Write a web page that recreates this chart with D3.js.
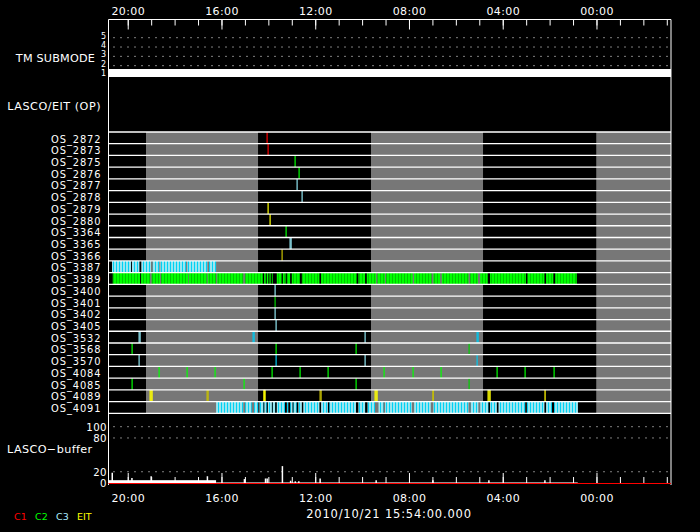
<!DOCTYPE html>
<html><head><meta charset="utf-8">
<script src="https://cdn.jsdelivr.net/npm/d3@7"></script>
<style>
body{margin:0;background:#000}
svg{display:block}
text{font-family:"DejaVu Sans",sans-serif}
</style></head>
<body><svg id="c" width="700" height="532"></svg>
<script>
// ---------- DATA (times are decimal hours on 2010/10/21, negative = previous day) ----------
const timeDomain = [20.82, -3.18];
const majorTicks = [20, 16, 12, 8, 4, 0];
const minorTicks = [20,19,18,17,16,15,14,13,12,11,10,9,8,7,6,5,4,3,2,1,0,-1,-2,-3];
const submodeLevels = [1, 2, 3, 4, 5];
const submodeSpans = [[20.82, -3.18, 1]];
const osRows = ["OS_2872","OS_2873","OS_2875","OS_2876","OS_2877","OS_2878","OS_2879","OS_2880",
  "OS_3364","OS_3365","OS_3366","OS_3387","OS_3389","OS_3400","OS_3401","OS_3402","OS_3405",
  "OS_3532","OS_3568","OS_3570","OS_4084","OS_4085","OS_4089","OS_4091"];
const shadeBands = [[19.22, 14.44], [9.62, 4.84], [0.01, -3.18]];
// single exposures: [row, time, kind]
const osMarks = [
  ["OS_2872",14.04,"C1"],["OS_2873",14.00,"C1"],
  ["OS_2875",12.85,"C2"],["OS_2876",12.68,"C2"],
  ["OS_2877",12.76,"C3"],["OS_2878",12.55,"C3"],
  ["OS_2879",14.00,"EIT"],["OS_2880",13.91,"EIT"],
  ["OS_3364",13.23,"C2"],["OS_3365",13.06,"C3"],["OS_3365",13.02,"C3"],
  ["OS_3366",13.40,"EITb"],
  ["OS_3400",13.71,"C3"],["OS_3401",13.71,"C2b"],["OS_3402",13.71,"C3"],["OS_3405",13.67,"C3"],
  ["OS_3532",19.50,"C3"],["OS_3532",19.46,"C3"],["OS_3532",14.67,"C3b"],["OS_3532",14.63,"C3b"],
  ["OS_3532",9.86,"C3"],["OS_3532",5.08,"C3b"],["OS_3532",5.04,"C3b"],
  ["OS_3568",19.83,"C2"],["OS_3568",13.66,"C2"],["OS_3568",10.24,"C2"],["OS_3568",5.42,"C2b"],
  ["OS_3570",19.50,"C3"],["OS_3570",13.66,"C3b"],["OS_3570",9.86,"C3"],["OS_3570",5.08,"C3b"],
  ["OS_4084",18.65,"C2"],["OS_4084",17.46,"C2"],["OS_4084",16.26,"C2"],
  ["OS_4084",13.83,"C2"],["OS_4084",12.63,"C2"],["OS_4084",11.44,"C2"],
  ["OS_4084",9.05,"C2"],["OS_4084",7.81,"C2"],["OS_4084",6.62,"C2"],
  ["OS_4084",4.23,"C2"],["OS_4084",3.03,"C2"],["OS_4084",1.83,"C2"],
  ["OS_4085",19.83,"C2"],["OS_4085",15.02,"C2"],["OS_4085",10.24,"C2"],["OS_4085",5.42,"C2b"],
  ["OS_4089",19.03,"EIT"],["OS_4089",19.00,"EIT"],["OS_4089",18.97,"EIT"],["OS_4089",16.61,"EITb"],["OS_4089",16.58,"EITb"],
  ["OS_4089",14.20,"EIT"],["OS_4089",14.17,"EIT"],["OS_4089",14.14,"EIT"],["OS_4089",11.80,"EITb"],["OS_4089",11.77,"EITb"],
  ["OS_4089",9.43,"EIT"],["OS_4089",9.40,"EIT"],["OS_4089",9.37,"EIT"],["OS_4089",6.99,"EITb"],["OS_4089",6.96,"EITb"],
  ["OS_4089",4.62,"EIT"],["OS_4089",4.59,"EIT"],["OS_4089",4.56,"EIT"],["OS_4089",2.21,"EITb"],["OS_4089",2.18,"EITb"]
];
// dense exposure runs: [start, end]
const runs3387 = [[20.67,19.86],[19.82,19.50],[19.42,19.01],[18.93,18.65],[18.61,17.51],[17.46,16.60],[16.53,16.23]];
const runs3389 = [[20.64,19.47],[19.43,19.05],[18.98,18.62],[18.58,17.43],[17.40,16.63],[16.59,16.23],
  [16.18,15.07],[14.99,14.24],[14.18,14.11],[14.07,14.00],[13.96,13.90],[13.85,13.81],[13.64,13.43],
  [13.38,13.26],[13.21,13.07],[13.00,12.65],[12.57,11.82],[11.75,10.23],[10.16,9.87],[9.80,9.40],
  [9.35,9.02],[8.98,7.84],[7.78,7.03],[6.96,6.67],[6.60,5.46],[5.39,5.06],[4.96,4.64],[4.54,3.01],
  [2.95,2.22],[2.15,1.84],[1.76,0.84]];
const runs4091 = [[16.23,15.07],[14.99,14.71],[14.61,14.43],[14.38,14.21],[14.17,14.07],[14.02,13.85],
  [13.81,13.71],[13.64,13.29],[13.21,13.15],[13.07,12.97],[12.93,12.79],[12.72,12.57],[12.51,11.82],
  [11.75,11.46],[11.40,10.26],[10.16,9.87],[9.77,9.45],[9.30,9.09],[9.02,7.88],[7.78,7.07],[6.96,5.46],
  [5.36,5.04],[4.96,4.61],[4.54,4.25],[4.18,3.04],[2.97,2.22],[2.15,1.90],[1.81,0.79]];
const bufferTicks = [0, 20, 80, 100];
const bufferGrid = [20, 80, 100];
const bufferLevels = [[20.82,16.23,5],[16.23,0.80,1]];
const bufferSpikes = [[20.66,18],[19.82,9],[19.00,12],[16.60,12],[15.02,7],[14.12,8],[14.05,8],
  [13.40,30],[13.05,4],[12.85,3],[12.70,3],[11.79,8],[9.40,5],[6.98,5],[4.59,5],[2.20,5]];
const bufferC1 = [[20.82,0],[-3.18,0]];
const legendItems = ["C1","C2","C3","EIT"];
const dateLabel = "2010/10/21 15:54:00.000";

// ---------- STYLE ----------
const colors = {C1:"#ff0000",C2:"#00ff00",C2b:"#00d000",C3:"#8fe3ef",C3b:"#00c8f0",EIT:"#ffff00",EITb:"#c8c000"};
const legendColors = {C1:"#ff0000",C2:"#00ff00",C3:"#aaeeff",EIT:"#ffff00"};
const W = 700, H = 532;
const svg = d3.select("#c");
svg.append("rect").attr("width",W).attr("height",H).attr("fill","#000");

const defs = svg.append("defs");
function stripe(id, c1, c2){
  const p = defs.append("pattern").attr("id",id).attr("patternUnits","userSpaceOnUse")
    .attr("width",3).attr("height",10);
  p.append("rect").attr("width",3).attr("height",10).attr("fill",c1);
  p.append("rect").attr("x",2).attr("width",1).attr("height",10).attr("fill",c2);
}
stripe("cyanStripe", "#9ae6f0", "#00d2f4");
stripe("greenStripe", "#00ff00", "#00c800");

const left = 108.5, right = 671;
const x = d3.scaleLinear().domain(timeDomain).range([left, right]);
const ySub = d3.scaleLinear().domain([1,5]).range([75, 37.7]);
const yRow = d3.scaleBand().domain(osRows).range([132, 413.3]).padding(0);
const yBuf = d3.scaleLinear().domain([0,100]).range([483, 426.7]);
const bw = yRow.bandwidth();
const fmt = h => String(((h%24)+24)%24).padStart(2,"0") + ":00";

function txt(sel, size, color){
  return sel.style("fill", color || "#fff").style("font-size", size + "px");
}

// grey shading
svg.append("g").selectAll("rect").data(shadeBands).join("rect")
  .attr("x", d => x(d[0])).attr("width", d => x(d[1]) - x(d[0]))
  .attr("y", yRow.range()[0]).attr("height", yRow.range()[1]-yRow.range()[0])
  .attr("fill", "#777777");

// dense runs
function drawRuns(runs, row, fill){
  svg.append("g").selectAll("rect").data(runs).join("rect")
    .attr("x", d => x(d[0])).attr("width", d => Math.max(1, x(d[1]) - x(d[0])))
    .attr("y", yRow(row)).attr("height", bw).attr("fill", fill);
}
drawRuns(runs3387, "OS_3387", "url(#cyanStripe)");
drawRuns(runs3389, "OS_3389", "url(#greenStripe)");
drawRuns(runs4091, "OS_4091", "url(#cyanStripe)");

// single exposures
svg.append("g").selectAll("rect").data(osMarks).join("rect")
  .attr("x", d => Math.round(x(d[1])) - 0.5).attr("width", 1.2)
  .attr("y", d => yRow(d[0])).attr("height", bw)
  .attr("fill", d => colors[d[2]]);

// row lines
const rowLines = osRows.map(r => yRow(r)).concat([yRow.range()[1]]);
svg.append("g").selectAll("line").data(rowLines).join("line")
  .attr("x1", left).attr("x2", right).attr("y1", d => d).attr("y2", d => d)
  .attr("stroke", "#fff").attr("stroke-width", 1.3);

// row labels
txt(svg.append("g").selectAll("text").data(osRows).join("text")
  .attr("x", 101.5).attr("y", d => yRow(d) + bw - 1.2)
  .attr("text-anchor","end").attr("letter-spacing", 0.9).text(d => d), 9.9);

// TM submode
svg.append("g").selectAll("line").data(submodeLevels.slice(1)).join("line")
  .attr("x1", left+5).attr("x2", right).attr("y1", d => ySub(d)).attr("y2", d => ySub(d))
  .attr("stroke","#fff").attr("stroke-dasharray","1 6");
svg.append("g").selectAll("rect").data(submodeSpans).join("rect")
  .attr("x", d => x(d[0])).attr("width", d => x(d[1]) - x(d[0]))
  .attr("y", d => ySub(d[2]) - 6).attr("height", 8).attr("fill","#fff");
txt(svg.append("g").selectAll("text").data(submodeLevels).join("text")
  .attr("x", 106).attr("y", d => ySub(d) + 1).attr("text-anchor","end").text(d => d), 8);
txt(svg.append("text").attr("x", 95).attr("y", 62).attr("text-anchor","end")
  .attr("letter-spacing", 0.2).text("TM SUBMODE"), 11.2);
txt(svg.append("text").attr("x", 101).attr("y", 110).attr("text-anchor","end")
  .attr("letter-spacing", 0.5).text("LASCO/EIT (OP)"), 11.2);

// buffer panel
svg.append("g").selectAll("line").data(bufferGrid).join("line")
  .attr("x1", left+5).attr("x2", right).attr("y1", d => yBuf(d)).attr("y2", d => yBuf(d))
  .attr("stroke","#fff").attr("stroke-dasharray","1 6");
svg.append("g").selectAll("rect").data(bufferLevels).join("rect")
  .attr("x", d => x(d[0])).attr("width", d => x(d[1]) - x(d[0]))
  .attr("y", d => yBuf(d[2])).attr("height", d => yBuf(0) - yBuf(d[2])).attr("fill","#fff");
svg.append("g").selectAll("line").data(bufferSpikes).join("line")
  .attr("x1", d => x(d[0])).attr("x2", d => x(d[0]))
  .attr("y1", yBuf(0)).attr("y2", d => yBuf(d[1]))
  .attr("stroke","#fff").attr("stroke-width", 1.5);
txt(svg.append("g").selectAll("text").data(bufferTicks).join("text")
  .attr("x", 107).attr("y", d => yBuf(d) + 4.2).attr("text-anchor","end")
  .attr("letter-spacing", 0.4).text(d => d), 10.2);
txt(svg.append("text").attr("x", 7).attr("y", 453).attr("letter-spacing", 0.4)
  .text("LASCO\u2212buffer"), 11.2);

// axes
function styleAxis(g){
  g.select(".domain").remove();
  g.selectAll("line").attr("stroke","#fff");
  g.selectAll("text").style("fill","#fff").style("font-size","11px")
    .style("font-family","DejaVu Sans").attr("letter-spacing", 0.4);
}
const topY = 19.5, botY = 483;
svg.append("g").attr("transform",`translate(0,${topY})`)
  .call(d3.axisTop(x).tickValues(minorTicks).tickSize(-6).tickFormat("")).call(styleAxis);
svg.append("g").attr("transform",`translate(0,${topY})`)
  .call(d3.axisTop(x).tickValues(majorTicks).tickSize(-10).tickPadding(5).tickFormat(fmt)).call(styleAxis);
svg.append("g").attr("transform",`translate(0,${botY})`)
  .call(d3.axisBottom(x).tickValues(minorTicks).tickSize(-6).tickFormat("")).call(styleAxis);
svg.append("g").attr("transform",`translate(0,${botY})`)
  .call(d3.axisBottom(x).tickValues(majorTicks).tickSize(-10).tickPadding(11).tickFormat(fmt)).call(styleAxis);

// frame
svg.append("line").attr("x1",left).attr("x2",right).attr("y1",topY).attr("y2",topY).attr("stroke","#fff");
svg.append("line").attr("x1",left).attr("x2",left).attr("y1",topY).attr("y2",485).attr("stroke","#fff");
svg.append("line").attr("x1",right).attr("x2",right).attr("y1",topY).attr("y2",485).attr("stroke","#fff");

// C1 buffer level (zero) in red
svg.append("path").datum(bufferC1)
  .attr("d", d3.line().x(d => x(d[0])).y(d => yBuf(d[1]) + 0.5))
  .attr("stroke", colors.C1).attr("stroke-width", 1.2).attr("fill","none");

// date label
txt(svg.append("text").attr("x", 389).attr("y", 518).attr("text-anchor","middle")
  .attr("letter-spacing", 0.8).text(dateLabel), 11.5);

// legend
const legX = d3.scalePoint().domain(legendItems).range([14, 77]);
svg.append("g").selectAll("text").data(legendItems).join("text")
  .attr("x", d => legX(d)).attr("y", 520).text(d => d)
  .style("font-size","9.5px").style("fill", d => legendColors[d]);
</script></body></html>
